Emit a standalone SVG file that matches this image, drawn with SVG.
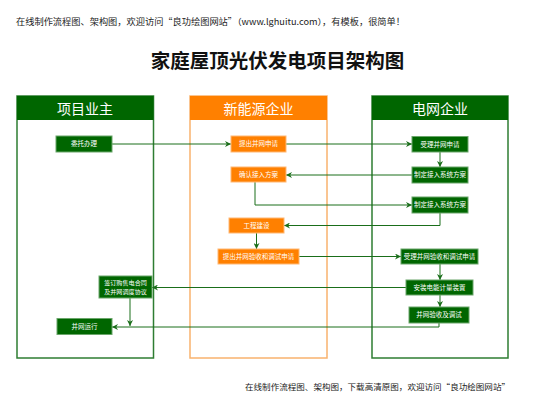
<svg xmlns="http://www.w3.org/2000/svg" width="535" height="413" viewBox="0 0 535 413">
<defs>
<style>
text{font-family:"Noto Sans CJK SC","Noto Sans",sans-serif;}
.lane-g{fill:#fff;stroke:#2e7d32;stroke-width:1.5;}
.lane-o{fill:#fff;stroke:#f9b26e;stroke-width:1.5;}
.hd-g{fill:#006600;}
.hd-o{fill:#ff8000;}
.hdt{fill:#fff;font-size:14px;text-anchor:middle;}
.ng{fill:#006600;stroke:#6aa66a;stroke-width:1;}
.no{fill:#ff8000;stroke:#ffb874;stroke-width:1;}
.nt{fill:#fff;font-size:6.5px;text-anchor:middle;}
.nt2{fill:#fff;font-size:6.1px;text-anchor:middle;}
.c{fill:none;stroke:#1a6e1a;stroke-width:1;marker-end:url(#ah);}
</style>
<marker id="ah" viewBox="0 0 10 10" refX="10" refY="5" markerWidth="6" markerHeight="6" orient="auto" markerUnits="userSpaceOnUse">
<path d="M0,0 L10,5 L0,10 L3,5 Z" fill="#1a6e1a"/>
</marker>
</defs>
<rect width="535" height="413" fill="#fff"/>
<text x="16" y="24.5" font-size="8.6" fill="#222" textLength="389" lengthAdjust="spacingAndGlyphs">在线制作流程图、架构图，欢迎访问“良功绘图网站”（www.lghuitu.com），有模板，很简单！</text>
<text x="277.5" y="67.5" font-size="19.5" font-weight="bold" fill="#111" text-anchor="middle">家庭屋顶光伏发电项目架构图</text>
<text x="245" y="389.5" font-size="8.5" fill="#222" textLength="265" lengthAdjust="spacingAndGlyphs">在线制作流程图、架构图，下载高清原图，欢迎访问“良功绘图网站”</text>

<g id="lane-owner">
<rect class="lane-g" x="17" y="96" width="136.5" height="262"/>
<rect class="hd-g" x="17" y="96" width="136.5" height="24"/>
<text class="hdt" x="85" y="113.5">项目业主</text>
</g>
<g id="lane-energy">
<rect class="lane-o" x="190" y="96" width="137" height="262"/>
<rect class="hd-o" x="190" y="96" width="137" height="24"/>
<text class="hdt" x="258.5" y="113.5">新能源企业</text>
</g>
<g id="lane-grid">
<rect class="lane-g" x="372" y="96" width="136" height="262"/>
<rect class="hd-g" x="372" y="96" width="136" height="24"/>
<text class="hdt" x="440" y="113.5">电网企业</text>
</g>

<g id="connectors">
<path class="c" d="M112,144 L231,144"/>
<path class="c" d="M286,144 L412,144"/>
<path class="c" d="M440,152 L440,167"/>
<path class="c" d="M412,175 L286,175"/>
<path class="c" d="M255,182 L255,205 L412,205"/>
<path class="c" d="M440,213 L440,225.5 L284,225.5"/>
<path class="c" d="M256.5,233 L256.5,249"/>
<path class="c" d="M299,256.5 L401,256.5"/>
<path class="c" d="M440,264 L440,280"/>
<path class="c" d="M406,287.5 L152,287.5"/>
<path class="c" d="M440,295 L440,307"/>
<path class="c" d="M439,323 L439,327 L112,327"/>
<path class="c" d="M130,298 L130,326"/>
</g>

<g id="n-weituo"><rect class="ng" x="56" y="136" width="56" height="16"/><text class="nt" x="84" y="146.3">委托办理</text></g>
<g id="n-qianding"><rect class="ng" x="99" y="276" width="53" height="22"/><text class="nt2" x="125.5" y="284.8">签订购售电合同</text><text class="nt2" x="125.5" y="294">及并网调度协议</text></g>
<g id="n-yunxing"><rect class="ng" x="57" y="318.5" width="55" height="16"/><text class="nt" x="84.5" y="328.8">并网运行</text></g>

<g id="n-tichu"><rect class="no" x="231" y="136" width="55" height="16"/><text class="nt" x="258.5" y="146.3">提出并网申请</text></g>
<g id="n-queren"><rect class="no" x="231" y="167" width="55" height="15"/><text class="nt" x="258.5" y="176.8">确认接入方案</text></g>
<g id="n-gongcheng"><rect class="no" x="229" y="218" width="55" height="15"/><text class="nt" x="256.5" y="227.8">工程建设</text></g>
<g id="n-tichuyanshou"><rect class="no" x="218" y="249" width="81" height="15"/><text class="nt" x="258.5" y="258.8">提出并网验收和调试申请</text></g>

<g id="n-shouli"><rect class="ng" x="412" y="136.5" width="56" height="15.5"/><text class="nt" x="440" y="146.5">受理并网申请</text></g>
<g id="n-zhiding1"><rect class="ng" x="412" y="167" width="56" height="16"/><text class="nt" x="440" y="177.3">制定接入系统方案</text></g>
<g id="n-zhiding2"><rect class="ng" x="412" y="197" width="56" height="16"/><text class="nt" x="440" y="207.3">制定接入系统方案</text></g>
<g id="n-shouliyanshou"><rect class="ng" x="401" y="249" width="77" height="15"/><text class="nt" x="439.5" y="258.8">受理并网验收和调试申请</text></g>
<g id="n-anzhuang"><rect class="ng" x="406" y="280" width="67" height="15"/><text class="nt" x="439.5" y="289.8">安装电能计量装置</text></g>
<g id="n-yanshou"><rect class="ng" x="409" y="307" width="60" height="16"/><text class="nt" x="439" y="317.3">并网验收及调试</text></g>
</svg>
